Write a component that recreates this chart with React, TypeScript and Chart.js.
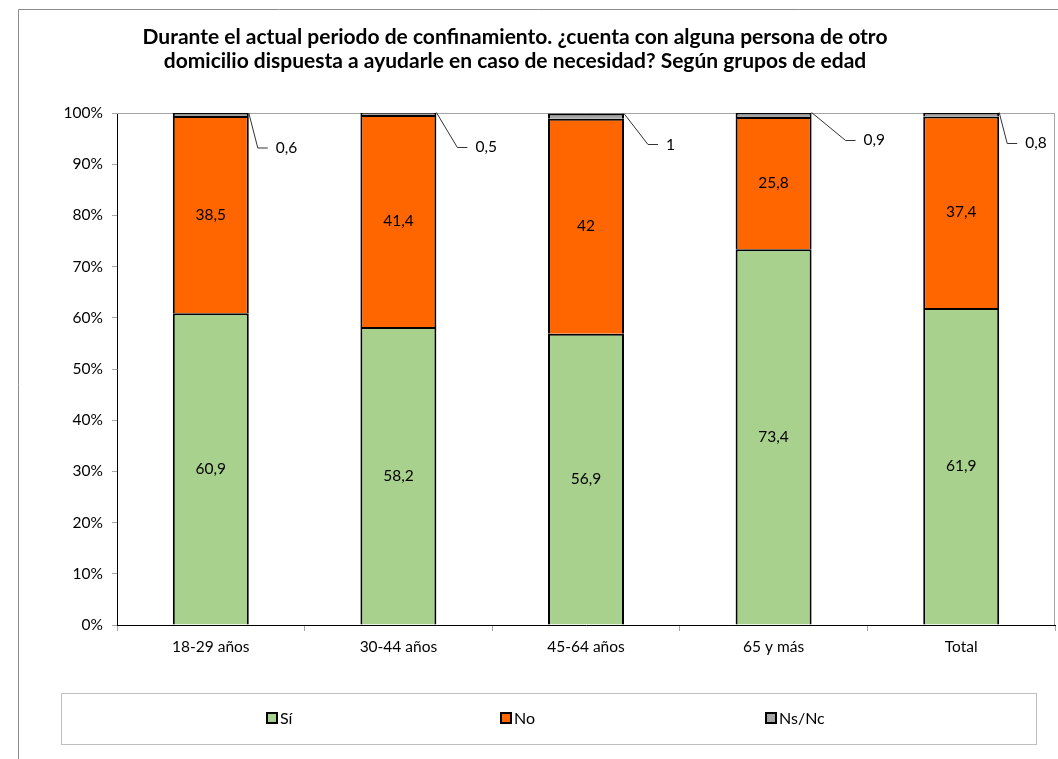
import { useEffect, useRef } from "react";
import { Chart, registerables } from "chart.js";

Chart.register(...registerables);

const categories = ["18-29 años", "30-44 años", "45-64 años", "65 y más", "Total"];
const siValues = [60.9, 58.2, 56.9, 73.4, 61.9];
const noValues = [38.5, 41.4, 42, 25.8, 37.4];
const nsncValues = [0.6, 0.5, 1, 0.9, 0.8];
const seriesNames = ["Sí", "No", "Ns/Nc"];
const yMin = 0;
const yMax = 100;
const yStep = 10;
const titleLines = [
  "Durante el actual periodo de confinamiento. ¿cuenta con alguna persona de otro",
  "domicilio dispuesta a ayudarle en caso de necesidad? Según grupos de edad",
];

// layout / style (not data)
const W = 1058;
const H = 759;
const FONT = "Lato, 'Noto Sans', sans-serif";
const COLORS = ["#A9D18E", "#FF6600", "#A6A6A6"];
const calloutOffsets = [
  [9, 35],
  [21, 35],
  [24, 31],
  [34, 28],
  [8, 31],
];
const legendBoxX = [267, 501, 766];

const fmt = (v: number) => String(v).replace(".", ",");

const decor = {
  id: "decor",
  beforeDraw(chart: any) {
    const ctx = chart.ctx;
    ctx.save();
    ctx.fillStyle = "#fff";
    ctx.fillRect(0, 0, W, H);
    // outer frame
    ctx.strokeStyle = "#8c8c8c";
    ctx.lineWidth = 1;
    ctx.beginPath();
    ctx.moveTo(18.5, H + 2);
    ctx.lineTo(18.5, 9.5);
    ctx.lineTo(W + 2, 9.5);
    ctx.stroke();
    // title
    ctx.fillStyle = "#000";
    ctx.font = `bold 21px ${FONT}`;
    ctx.textAlign = "center";
    ctx.textBaseline = "middle";
    ctx.fillText(titleLines[0], 515, 37);
    ctx.fillText(titleLines[1], 515, 61);
    // legend box
    ctx.strokeStyle = "#bfbfbf";
    ctx.strokeRect(61.5, 693.5, 975, 51);
    ctx.font = `16px ${FONT}`;
    ctx.textAlign = "left";
    chart.data.datasets.forEach((ds: any, i: number) => {
      const x = legendBoxX[i];
      ctx.fillStyle = ds.backgroundColor;
      ctx.fillRect(x, 713, 10, 10);
      ctx.strokeStyle = "#000";
      ctx.lineWidth = 2;
      ctx.strokeRect(x, 713, 10, 10);
      ctx.fillStyle = "#000";
      ctx.fillText(ds.label, x + 13, 718.5);
    });
    ctx.restore();
  },
  beforeDatasetsDraw(chart: any) {
    const { ctx, chartArea } = chart;
    ctx.save();
    ctx.strokeStyle = "#a6a6a6";
    ctx.lineWidth = 1;
    ctx.beginPath();
    ctx.moveTo(chartArea.left, Math.round(chartArea.top) + 0.5);
    ctx.lineTo(Math.round(chartArea.right) - 0.5, Math.round(chartArea.top) + 0.5);
    ctx.lineTo(Math.round(chartArea.right) - 0.5, chartArea.bottom);
    ctx.stroke();
    ctx.restore();
  },
  afterDatasetsDraw(chart: any) {
    const ctx = chart.ctx;
    ctx.save();
    ctx.fillStyle = "#000";
    ctx.font = `15.5px ${FONT}`;
    ctx.textAlign = "center";
    ctx.textBaseline = "middle";
    [0, 1].forEach((di) => {
      const meta = chart.getDatasetMeta(di);
      meta.data.forEach((el: any, i: number) => {
        const v = chart.data.datasets[di].data[i];
        ctx.fillText(fmt(v), el.x, (el.y + el.base) / 2);
      });
    });
    // callouts for Ns/Nc
    const meta = chart.getDatasetMeta(2);
    ctx.strokeStyle = "#333";
    ctx.lineWidth = 1;
    ctx.textAlign = "left";
    meta.data.forEach((el: any, i: number) => {
      const v = chart.data.datasets[2].data[i];
      const x0 = el.x + el.width / 2;
      const y0 = el.y;
      const [dx, dy] = calloutOffsets[i];
      const x1 = x0 + dx;
      const y1 = y0 + dy;
      ctx.beginPath();
      ctx.moveTo(x0, y0);
      ctx.lineTo(x1, y1);
      ctx.lineTo(x1 + 10, y1);
      ctx.stroke();
      ctx.fillText(fmt(v), x1 + 18, y1);
    });
    ctx.restore();
  },
};

export default function App() {
  const ref = useRef<HTMLCanvasElement>(null);
  useEffect(() => {
    if (!ref.current) return;
    const chart = new Chart(ref.current, {
      type: "bar",
      data: {
        labels: categories,
        datasets: [siValues, noValues, nsncValues].map((d, i) => ({
          label: seriesNames[i],
          data: d,
          backgroundColor: COLORS[i],
          borderColor: "#000",
          borderWidth: 2,
          barPercentage: 0.405,
          categoryPercentage: 1,
        })),
      },
      options: {
        responsive: false,
        animation: false,
        devicePixelRatio: 1,
        layout: { padding: { left: 0, right: 3, top: 113, bottom: 0 } },
        plugins: {
          legend: { display: false },
          title: { display: false },
          tooltip: { enabled: false },
        },
        scales: {
          x: {
            stacked: true,
            grid: {
              display: true,
              drawOnChartArea: false,
              offset: true,
              tickLength: 6,
              tickColor: "#a6a6a6",
            },
            border: { display: true, color: "#000", width: 1 },
            ticks: {
              color: "#000",
              font: { family: FONT, size: 15.5 },
              padding: 7,
              maxRotation: 0,
            },
            afterFit(scale: any) {
              scale.height = H - 625;
            },
          },
          y: {
            stacked: true,
            min: yMin,
            max: yMax,
            grid: {
              display: true,
              drawOnChartArea: false,
              tickLength: 5,
              tickColor: "#a6a6a6",
            },
            border: { display: true, color: "#000", width: 1 },
            ticks: {
              stepSize: yStep,
              color: "#000",
              font: { family: FONT, size: 15.5 },
              padding: 9,
              callback: (v: any) => v + "%",
            },
            afterFit(scale: any) {
              scale.width = 117;
            },
          },
        },
      },
      plugins: [decor],
    });
    return () => chart.destroy();
  }, []);
  return (
    <div style={{ position: "absolute", left: 0, top: 0, width: W, height: H }}>
      <canvas ref={ref} width={W} height={H} style={{ width: W, height: H, display: "block" }} />
    </div>
  );
}
